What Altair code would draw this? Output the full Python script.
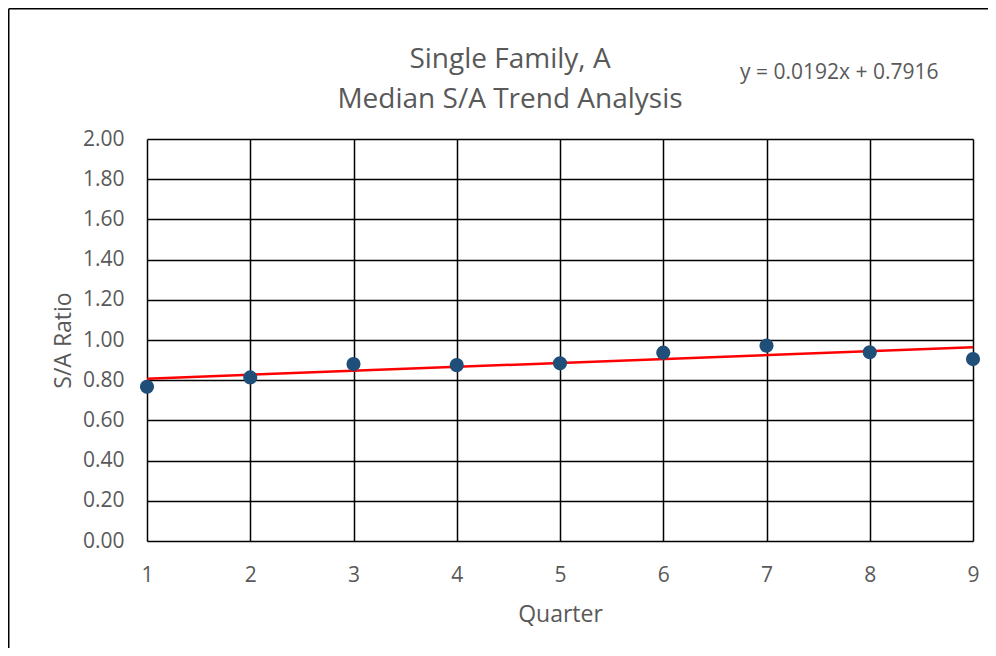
import altair as alt
import pandas as pd

# ---- data ----
quarters = [1, 2, 3, 4, 5, 6, 7, 8, 9]
ratios = [0.767, 0.814, 0.880, 0.875, 0.884, 0.937, 0.972, 0.939, 0.905]
y_ticks = [0.0, 0.2, 0.4, 0.6, 0.8, 1.0, 1.2, 1.4, 1.6, 1.8, 2.0]
x_ticks = [1, 2, 3, 4, 5, 6, 7, 8, 9]
chart_title = ["Single Family, A", "Median S/A Trend Analysis"]
equation = ["y = 0.0192x + 0.7916"]

FONT = "Open Sans"
GREY = "#595959"
W, H = 826, 402

df = pd.DataFrame({"Quarter": quarters, "Ratio": ratios})

x_enc = alt.X(
    "Quarter:Q",
    scale=alt.Scale(domain=[1, 9], nice=False, zero=False),
    axis=alt.Axis(
        values=x_ticks, format="d", title="Quarter",
        grid=True, gridColor="black", gridWidth=1.5, gridOpacity=1,
        domain=False, ticks=False, labelFlush=False,
        labelFont=FONT, labelFontSize=21, labelColor=GREY,
        labelBaseline="alphabetic", labelPadding=40,
        titleFont=FONT, titleFontSize=23, titleColor=GREY, titleFontWeight="normal",
        titleX=W / 2, titleY=80, titleBaseline="alphabetic", titleAlign="center",
    ),
)
y_enc = alt.Y(
    "Ratio:Q",
    scale=alt.Scale(domain=[0, 2], nice=False),
    axis=alt.Axis(
        values=y_ticks, format=".2f", title="S/A Ratio",
        grid=True, gridColor="black", gridWidth=1.5, gridOpacity=1,
        domain=False, ticks=False, labelFlush=False,
        labelFont=FONT, labelFontSize=21, labelColor=GREY, labelPadding=23,
        titleFont=FONT, titleFontSize=23, titleColor=GREY, titleFontWeight="normal",
        titleX=-77, titleY=H / 2, titleAngle=-90, titleBaseline="alphabetic",
        titleAlign="center",
    ),
)

base = alt.Chart(df)

trend = base.transform_regression("Quarter", "Ratio", extent=[1, 9]).mark_line(
    color="#FF0000", strokeWidth=2.5
).encode(x=x_enc, y=y_enc)

points = base.mark_circle(size=200, color="#1F4E79", opacity=1).encode(
    x="Quarter:Q", y="Ratio:Q"
)

title_layer = alt.Chart(pd.DataFrame({"t": ["\n".join(chart_title)]})).mark_text(
    font=FONT, fontSize=28, color=GREY, align="center", baseline="alphabetic",
    lineBreak="\n", lineHeight=40,
).encode(x=alt.value(363), y=alt.value(-71), text="t:N")

eq_layer = alt.Chart(pd.DataFrame({"t": equation})).mark_text(
    font=FONT, fontSize=21, color=GREY, align="left", baseline="alphabetic",
).encode(x=alt.value(593), y=alt.value(-60), text="t:N")

frame_left = alt.Chart(pd.DataFrame({"a": [0]})).mark_rule(
    color="black", strokeWidth=1.5
).encode(x=alt.value(-138.25), y=alt.value(-130.25), y2=alt.value(H + 110))

frame_top = alt.Chart(pd.DataFrame({"a": [0]})).mark_rule(
    color="black", strokeWidth=1.5
).encode(y=alt.value(-130.25), x=alt.value(-138.25), x2=alt.value(W + 20))

chart = alt.layer(
    frame_left, frame_top, trend, points, title_layer, eq_layer
).properties(
    width=W, height=H,
    autosize=alt.AutoSizeParams(type="none"),
    padding={"left": 139, "top": 131, "right": 15, "bottom": 107},
    background="white",
).configure_view(stroke=None)

chart.save("out.html", embed_options={"renderer": "svg", "actions": False})
